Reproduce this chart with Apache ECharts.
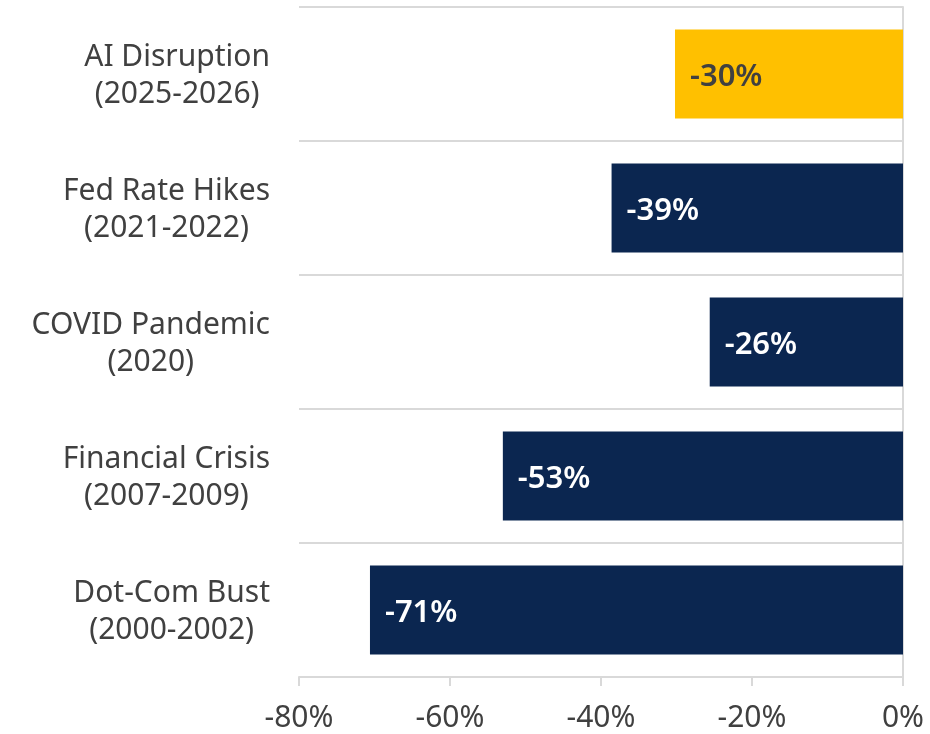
<!DOCTYPE html>
<html>
<head>
<meta charset="utf-8">
<script src="https://cdn.jsdelivr.net/npm/echarts@6/dist/echarts.min.js"></script>
<style>
html,body{margin:0;padding:0;background:#fff;}
#chart{width:930px;height:734px;}
</style>
</head>
<body>
<div id="chart"></div>
<script>
const categories = [
  "AI Disruption\n(2025-2026)",
  "Fed Rate Hikes\n(2021-2022)",
  "COVID Pandemic\n(2020)",
  "Financial Crisis\n(2007-2009)",
  "Dot-Com Bust\n(2000-2002)"
];
const values = [-30.2, -38.6, -25.6, -53.0, -70.6];
const highlight = [true, false, false, false, false];
const xTicks = { min: -80, max: 0, interval: 20 };

const FONT = "'Noto Sans', 'Open Sans', sans-serif";
const TEXT = "#404040";
const GRID = "#d9d9d9";
const NAVY = "#0B2650";
const GOLD = "#FFC000";

const chart = echarts.init(document.getElementById('chart'));
chart.setOption({
  animation: false,
  grid: { left: 299, right: 27, top: 7, bottom: 57, containLabel: false },
  xAxis: {
    type: 'value',
    min: xTicks.min, max: xTicks.max, interval: xTicks.interval,
    axisLine: { show: true, onZero: false, lineStyle: { color: GRID, width: 2 } },
    axisTick: { show: true, length: 9, lineStyle: { color: GRID, width: 2 } },
    splitLine: { show: false },
    axisLabel: {
      formatter: '{value}%', fontSize: 30, color: TEXT, fontFamily: FONT, margin: 26
    }
  },
  yAxis: [
    {
      type: 'category', data: categories, inverse: true, position: 'left',
      axisLine: { show: false }, axisTick: { show: false },
      splitLine: { show: true, lineStyle: { color: GRID, width: 2 } },
      axisLabel: {
        margin: 29, align: 'right', padding: [4, 0, 0, 0],
        formatter: function (v) {
          return v.split('\n').map(function (s) { return '{c|' + s + '}'; }).join('\n');
        },
        rich: { c: { align: 'center', fontSize: 30, lineHeight: 37, color: TEXT, fontFamily: FONT } }
      }
    },
    {
      type: 'category', data: categories, inverse: true, position: 'right',
      axisLine: { show: true, onZero: false, lineStyle: { color: GRID, width: 2 } },
      axisTick: { show: false }, axisLabel: { show: false }, splitLine: { show: false }
    }
  ],
  series: [{
    type: 'bar',
    yAxisIndex: 0,
    barWidth: 89,
    data: values.map(function (v, i) {
      return {
        value: v,
        itemStyle: { color: highlight[i] ? GOLD : NAVY },
        label: { color: highlight[i] ? TEXT : '#ffffff' }
      };
    }),
    label: {
      show: true, position: 'insideLeft', distance: 15, offset: [0, 3],
      fontSize: 31, fontWeight: 600, fontFamily: FONT,
      formatter: function (p) { return Math.round(p.value) + '%'; }
    }
  }]
});
</script>
</body>
</html>
